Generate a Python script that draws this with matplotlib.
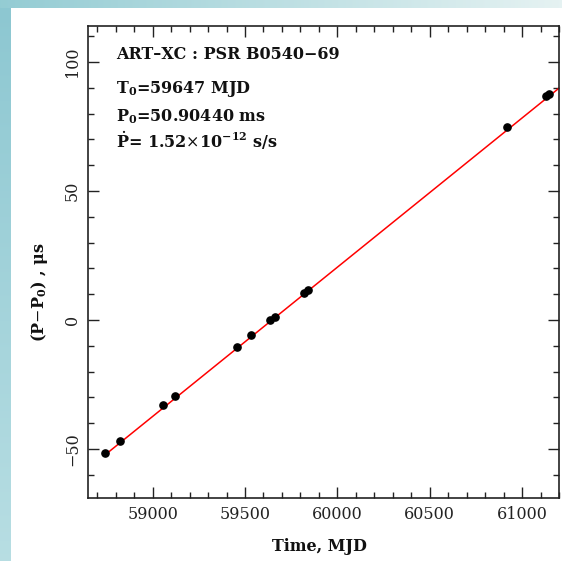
import numpy as np
import matplotlib
matplotlib.use('Agg')
import matplotlib.pyplot as plt
from matplotlib.ticker import MultipleLocator

# timing points: MJD and (P-P0) in microseconds
mjd = [58742, 58823, 59056, 59121, 59457, 59533, 59636, 59663, 59819, 59841, 60918, 61130, 61145]
dp_us = [-51.5, -46.9, -32.9, -29.5, -10.5, -5.8, 0.0, 1.2, 10.5, 11.6, 74.8, 86.8, 87.6]

# linear fit endpoints
fit_mjd = [58742, 61200]
fit_dp = [-52.3, 89.9]

info = ['ART\u2013XC : PSR B0540\u221269',
        r'T$_\mathbf{0}$=59647 MJD',
        r'P$_\mathbf{0}$=50.90440 ms',
        r'$\mathbf{\dot{P}}$= 1.52$\times$10$^{\mathbf{-12}}$ s/s']

plt.rcParams['font.family'] = 'DejaVu Serif'
plt.rcParams['mathtext.fontset'] = 'dejavuserif'

fig = plt.figure(figsize=(5.62, 5.61), dpi=100)

# slide background: teal strips on the left and top
bg = fig.add_axes([0, 0, 1, 1], zorder=-10)
bg.set_axis_off()
W, H = 562, 561
img = np.ones((H, W, 3))
left_top = np.array([0.55, 0.78, 0.82])
left_bot = np.array([0.72, 0.87, 0.89])
for r in range(H):
    f = r / H
    img[r, :11] = left_top * (1 - f) + left_bot * f
top_l = np.array([0.58, 0.80, 0.83])
top_r = np.array([0.90, 0.95, 0.95])
for c in range(W):
    f = c / W
    img[:8, c] = top_l * (1 - f) + top_r * f
bg.imshow(img, aspect='auto', extent=[0, 1, 0, 1])
bg.set_xlim(0, 1)
bg.set_ylim(0, 1)

ax = fig.add_axes([88 / W, 1 - 498 / H, (559 - 88) / W, (498 - 26) / H])
ax.plot(fit_mjd, fit_dp, color='red', lw=1.1, zorder=2)
ax.plot(mjd, dp_us, 'o', color='black', ms=5.2, zorder=3)

ax.set_xlim(58650, 61200)
ax.set_ylim(-69, 114)
ax.xaxis.set_major_locator(MultipleLocator(500))
ax.xaxis.set_minor_locator(MultipleLocator(100))
ax.yaxis.set_major_locator(MultipleLocator(50))
ax.yaxis.set_minor_locator(MultipleLocator(10))
ax.tick_params(which='both', direction='in', top=True, right=True, width=1.0, color='#222222')
ax.tick_params(which='major', length=8, labelsize=11.5)
ax.tick_params(axis='x', which='major', pad=6)
ax.tick_params(axis='y', which='major', pad=5)
ax.tick_params(which='minor', length=4)
for lab in ax.get_yticklabels():
    lab.set_rotation(90)
    lab.set_va('center')
for s in ax.spines.values():
    s.set_linewidth(1.2)
    s.set_color('#222222')
for lab in ax.get_xticklabels() + ax.get_yticklabels():
    lab.set_color('#222222')

ys = [59, 93, 121, 148]
for t, y in zip(info, ys):
    fig.text(116 / W, 1 - y / H, t, fontsize=11.5, fontweight='bold', color='#111111',
             ha='left', va='baseline')

fig.text(319 / W, 1 - 551 / H, 'Time, MJD', fontsize=11.5, fontweight='bold',
         ha='center', va='baseline', color='#111111')
fig.text(40 / W, 1 - 292 / H, r'(P$-$P$_\mathbf{0}$) , $\mathbf{\mu}$s', fontsize=11.5,
         fontweight='bold', rotation=90, ha='center', va='center', color='#111111')

fig.savefig('out.png', dpi=100)
